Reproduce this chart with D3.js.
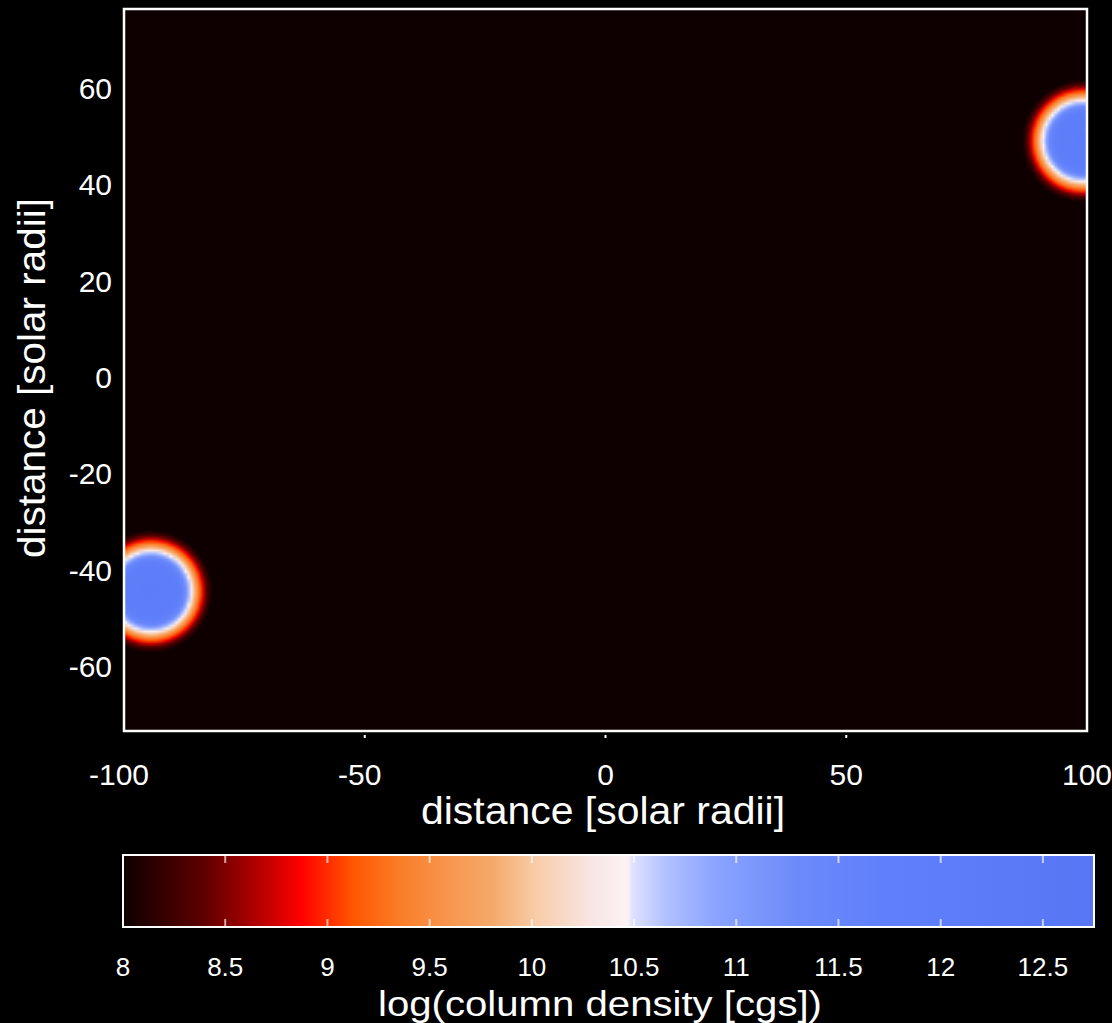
<!DOCTYPE html>
<html lang="en">
	<head>
		<meta charset="utf-8">
		<title>column density</title>
		<script type="text/javascript" src="https://d3js.org/d3.v7.min.js"></script>
		<style type="text/css">
            body{margin:0;background:#000;font-family:"Liberation Sans",Arial,sans-serif;}
            #chart1 svg{display:block;}
            text{fill:#fff;}
		</style>
	</head>
	<body>
    <div id="chart1"></div>
		<script type="text/javascript">
            // blob centres [solar radii]
            var blobX = [99.2, -94.4]
            var blobY = [49.0, -44.5]
            // radial profile of log column density
            var profR = [0, 5, 7.0, 7.7, 8.3, 8.9, 9.8, 10.6, 11.4, 12.6]
            var profV = [12.1, 12.0, 11.4, 10.8, 10.45, 10.0, 9.4, 8.9, 8.4, 8.0]
            // colour map stops (value -> colour), from the colour bar
            var cmapV = [8.0, 8.4, 8.65, 8.87, 9.12, 9.37, 9.6, 9.8, 10.02, 10.3, 10.47, 10.49, 10.66, 10.9, 11.3, 11.7, 12.75]
            var cmapC = ["#0e0000","#600000","#b00000","#ff0000","#ff5500","#fa7f2a","#f89650","#f5a868","#f8cca8","#f8e6e6","#fdf2f2","#dfe2ff","#b0c0ff","#8aa4ff","#6c8afa","#6080fb","#5676f5"]
            var xTicks = [-100, -50, 0, 50, 100]
            var yTicks = [-60, -40, -20, 0, 20, 40, 60]
            var cTicks = [8, 8.5, 9, 9.5, 10, 10.5, 11, 11.5, 12, 12.5]

            var w = 1112
            var h = 1023

            var xScale = d3.scaleLinear().domain([-100, 100]).range([124, 1087])
            var yScale = d3.scaleLinear().domain([-73.5, 76.4]).range([731, 9])
            var profScale = d3.scaleLinear().domain(profR).range(profV).clamp(true)
            var cScale = d3.scaleLinear().domain(cmapV).range(cmapC).clamp(true)
            var barScale = d3.scaleLinear().domain([8, 12.75]).range([123, 1094])

            var svg = d3.select("#chart1")
                        .append("svg")
                        .attr("width", w)
                        .attr("height", h)

            svg.append("rect").attr("width", w).attr("height", h).attr("fill", "#000")

            // density field drawn on a coarse canvas, then put in as an image
            var cell = 3
            var pw = xScale.range()[1] - xScale.range()[0]
            var ph = yScale.range()[0] - yScale.range()[1]
            var nx = Math.ceil(pw / cell), ny = Math.ceil(ph / cell)
            var canvas = document.createElement("canvas")
            canvas.width = nx
            canvas.height = ny
            var ctx = canvas.getContext("2d")
            var img = ctx.createImageData(nx, ny)
            for (var j = 0; j < ny; j++) {
                for (var i = 0; i < nx; i++) {
                    var dx = xScale.invert(xScale.range()[0] + (i + 0.5) * cell)
                    var dy = yScale.invert(yScale.range()[1] + (j + 0.5) * cell)
                    var rmin = 1e9
                    for (var b = 0; b < blobX.length; b++) {
                        var r = Math.hypot(dx - blobX[b], dy - blobY[b])
                        if (r < rmin) rmin = r
                    }
                    var c = d3.rgb(cScale(profScale(rmin)))
                    var k = (j * nx + i) * 4
                    img.data[k] = c.r
                    img.data[k + 1] = c.g
                    img.data[k + 2] = c.b
                    img.data[k + 3] = 255
                }
            }
            ctx.putImageData(img, 0, 0)

            svg.append("image")
                .attr("x", xScale.range()[0])
                .attr("y", yScale.range()[1])
                .attr("width", nx * cell)
                .attr("height", ny * cell)
                .attr("preserveAspectRatio", "none")
                .attr("href", canvas.toDataURL())

            // cover the overflow of the image to the right / bottom
            svg.append("rect").attr("x", xScale.range()[1]).attr("y", 0)
                .attr("width", w - xScale.range()[1]).attr("height", 760).attr("fill", "#000")
            svg.append("rect").attr("x", 0).attr("y", yScale.range()[0])
                .attr("width", w).attr("height", 10).attr("fill", "#000")

            // frame
            svg.append("rect")
                .attr("x", xScale.range()[0])
                .attr("y", yScale.range()[1])
                .attr("width", pw)
                .attr("height", ph)
                .attr("fill", "none")
                .attr("stroke", "#fff")
                .attr("stroke-width", 2.5)

            // x ticks (tiny marks below the frame) and labels
            svg.selectAll(".xtick")
                .data(xTicks.filter(function(d){ return Math.abs(d) < 100 }))
                .enter().append("line")
                .attr("class", "xtick")
                .attr("x1", function(d){ return xScale(d) })
                .attr("x2", function(d){ return xScale(d) })
                .attr("y1", 735).attr("y2", 738)
                .attr("stroke", "#fff").attr("stroke-width", 2)

            svg.selectAll(".xlab")
                .data(xTicks)
                .enter().append("text")
                .attr("class", "xlab")
                .attr("x", function(d){ return xScale(d) - (d < 0 ? 5 : 0) })
                .attr("y", 785)
                .attr("text-anchor", "middle")
                .attr("font-size", 30)
                .text(function(d){ return d })

            svg.selectAll(".ylab")
                .data(yTicks)
                .enter().append("text")
                .attr("class", "ylab")
                .attr("x", 112)
                .attr("y", function(d){ return yScale(d) + 11 })
                .attr("text-anchor", "end")
                .attr("font-size", 30)
                .text(function(d){ return d })

            svg.append("text")
                .attr("x", 421).attr("y", 824)
                .attr("font-size", 38)
                .attr("textLength", 364)
                .attr("lengthAdjust", "spacingAndGlyphs")
                .text("distance [solar radii]")

            svg.append("text")
                .attr("transform", "translate(45,558) rotate(-90)")
                .attr("font-size", 38)
                .attr("textLength", 360)
                .attr("lengthAdjust", "spacingAndGlyphs")
                .text("distance [solar radii]")

            // colour bar
            var grad = svg.append("defs").append("linearGradient")
                .attr("id", "cbar")
                .attr("x1", "0%").attr("x2", "100%").attr("y1", "0%").attr("y2", "0%")
            grad.selectAll("stop")
                .data(cmapV)
                .enter().append("stop")
                .attr("offset", function(d){ return (barScale(d) - barScale.range()[0]) / (barScale.range()[1] - barScale.range()[0]) })
                .attr("stop-color", function(d, i){ return cmapC[i] })

            var barTop = 855, barBot = 927
            svg.append("rect")
                .attr("x", barScale.range()[0])
                .attr("y", barTop)
                .attr("width", barScale.range()[1] - barScale.range()[0])
                .attr("height", barBot - barTop)
                .attr("fill", "url(#cbar)")
                .attr("stroke", "#fff")
                .attr("stroke-width", 2)

            var inner = cTicks.filter(function(d){ return d > 8 })
            svg.selectAll(".ctickT")
                .data(inner).enter().append("line")
                .attr("x1", function(d){ return barScale(d) }).attr("x2", function(d){ return barScale(d) })
                .attr("y1", barTop).attr("y2", barTop + 8)
                .attr("stroke", "#fff").attr("stroke-opacity", 0.65).attr("stroke-width", 2)
            svg.selectAll(".ctickB")
                .data(inner).enter().append("line")
                .attr("x1", function(d){ return barScale(d) }).attr("x2", function(d){ return barScale(d) })
                .attr("y1", barBot - 8).attr("y2", barBot)
                .attr("stroke", "#fff").attr("stroke-opacity", 0.65).attr("stroke-width", 2)

            svg.selectAll(".clab")
                .data(cTicks).enter().append("text")
                .attr("x", function(d){ return barScale(d) })
                .attr("y", 976)
                .attr("text-anchor", "middle")
                .attr("font-size", 26)
                .text(function(d){ return d })

            svg.append("text")
                .attr("x", 378).attr("y", 1016)
                .attr("font-size", 35)
                .attr("textLength", 444)
                .attr("lengthAdjust", "spacingAndGlyphs")
                .text("log(column density [cgs])")
        </script>
	</body>
</html>
